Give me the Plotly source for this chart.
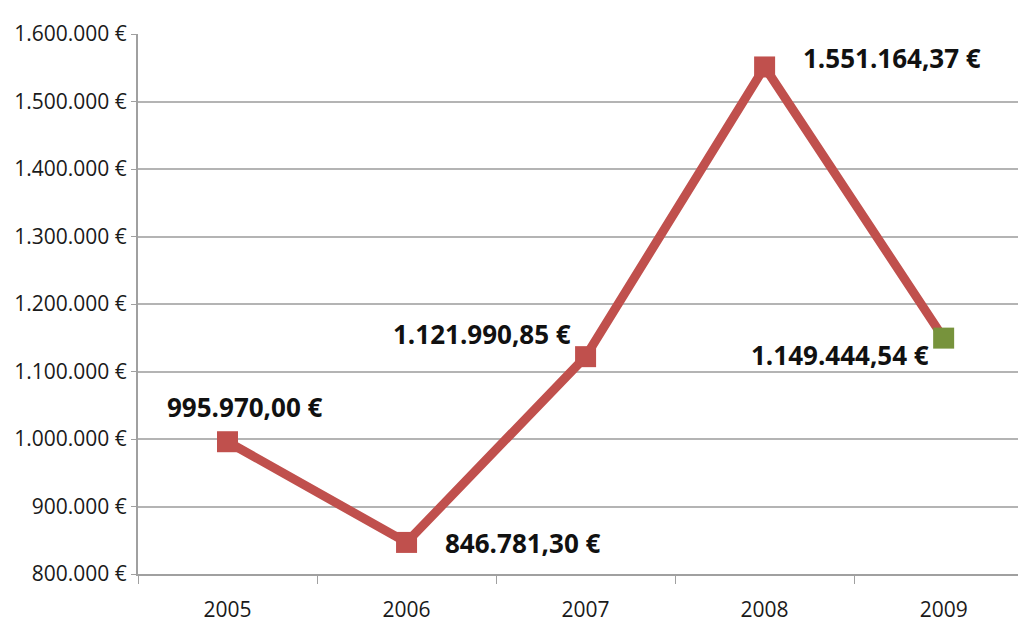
import plotly.graph_objects as go

years = ["2005", "2006", "2007", "2008", "2009"]
values = [995970.00, 846781.30, 1121990.85, 1551164.37, 1149444.54]
y_ticks = [800000, 900000, 1000000, 1100000, 1200000, 1300000, 1400000, 1500000, 1600000]

def fmt_eur(v, dec=2):
    s = f"{v:,.{dec}f}"
    s = s.replace(",", "X").replace(".", ",").replace("X", ".")
    return s + " €"

line_color = "#C0504D"
marker_colors = [line_color] * 4 + ["#77933C"]

fig = go.Figure()
fig.add_trace(go.Scatter(
    x=years, y=values, mode="lines+markers",
    line=dict(color=line_color, width=9),
    marker=dict(symbol="square", size=21, color=marker_colors,
                line=dict(width=0)),
    showlegend=False, hoverinfo="skip",
))

# label placement (style only)
label_style = [
    dict(xanchor="center", yanchor="middle", xshift=17, yshift=35),
    dict(xanchor="left", yanchor="middle", xshift=36, yshift=-1),
    dict(xanchor="right", yanchor="middle", xshift=-13, yshift=23),
    dict(xanchor="left", yanchor="middle", xshift=36, yshift=9),
    dict(xanchor="right", yanchor="middle", xshift=-13, yshift=-17),
]
for i, (v, st) in enumerate(zip(values, label_style)):
    fig.add_annotation(x=i, y=v, xref="x", yref="y", text="<b>" + fmt_eur(v) + "</b>",
                       showarrow=False,
                       font=dict(family="Open Sans", size=26, color="#111111"),
                       **st)

fig.update_layout(
    width=1018, height=614,
    margin=dict(l=130, r=0, t=26, b=48, autoexpand=False),
    paper_bgcolor="white", plot_bgcolor="white",
    font=dict(family="Open Sans", color="#1a1a1a"),
)
fig.update_xaxes(
    type="category", range=[-0.5, 4.46], automargin=False,
    showline=True, linecolor="#A0A0A0", linewidth=2,
    ticks="outside", tickson="boundaries", ticklen=8, tickcolor="#A0A0A0", tickwidth=1,
    tickfont=dict(size=21, color="#1a1a1a"),
    ticklabelstandoff=16,
    showgrid=False, zeroline=False,
)
fig.update_yaxes(
    range=[800000, 1600000], automargin=False,
    tickvals=y_ticks, ticktext=[fmt_eur(t, 0) for t in y_ticks],
    showline=True, linecolor="#A0A0A0", linewidth=2,
    ticks="outside", ticklen=5, tickcolor="#A0A0A0",
    ticklabelstandoff=0,
    showgrid=True, gridcolor="#B4B4B4", gridwidth=1.5,
    tickfont=dict(size=21, color="#1a1a1a"),
    zeroline=False,
)

fig.write_html("out.html")
